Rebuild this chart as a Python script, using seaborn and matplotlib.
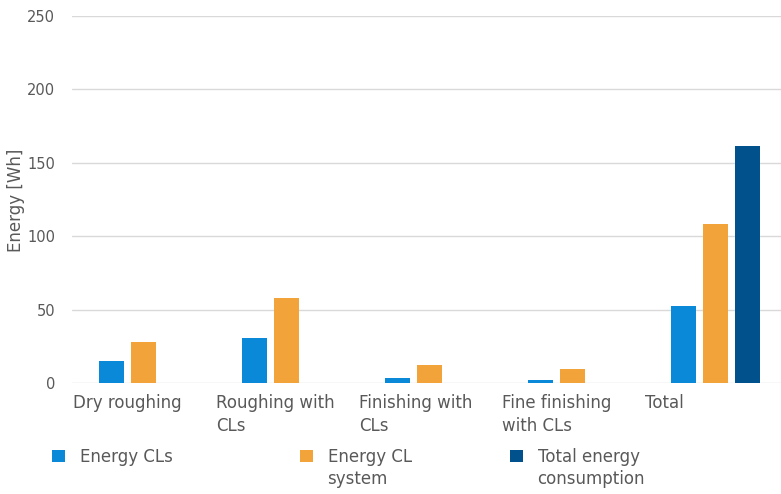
import numpy as np
import pandas as pd
import matplotlib
matplotlib.use("Agg")
import matplotlib.pyplot as plt
import seaborn as sns
from matplotlib.patches import Patch

categories = ["Dry roughing", "Roughing with\nCLs", "Finishing with\nCLs",
              "Fine finishing\nwith CLs", "Total"]
series = ["Energy CLs", "Energy CL system", "Total energy consumption"]
legend_lines = [["Energy CLs"], ["Energy CL", "system"], ["Total energy", "consumption"]]
energy_cls = [15, 30.5, 3.5, 2, 52.5]
energy_cl_system = [28, 58, 12, 9.5, 108.5]
total_energy = [0, 0, 0, 0, 161.5]
y_ticks = [0, 50, 100, 150, 200, 250]

colors = ["#0a89d8", "#f2a33a", "#00518c"]
text_color = "#595959"

df = pd.DataFrame({
    "category": categories * 3,
    "series": [series[0]] * 5 + [series[1]] * 5 + [series[2]] * 5,
    "energy": energy_cls + energy_cl_system + total_energy,
})

sns.set_theme(style="white")
plt.rcParams["font.family"] = ["DejaVu Sans"]

fig = plt.figure(figsize=(7.81, 4.94), dpi=100)
ax = fig.add_axes([72 / 781, 111 / 494, 709 / 781, 367 / 494])

sns.barplot(data=df, x="category", y="energy", hue="series", order=categories,
            hue_order=series, palette=colors, width=0.672, gap=0.2,
            linewidth=0, saturation=1, legend=False, ax=ax)

ax.set_ylim(0, 250)
ax.set_xlim(-0.5, 4.458)
ax.set_yticks(y_ticks)
ax.set_yticklabels([str(t) for t in y_ticks], fontsize=10.5, color=text_color)
ax.yaxis.grid(True, color="#d9d9d9", linewidth=1)
ax.set_axisbelow(True)
for s in ax.spines.values():
    s.set_visible(False)
ax.tick_params(axis="y", length=0, pad=12)
ax.tick_params(axis="x", length=0, pad=8)

ax.set_xticks(np.arange(len(categories)) - 0.49)
ax.set_xticklabels(categories, ha="left", va="top", fontsize=12,
                   color=text_color, linespacing=1.35)
ax.set_xlabel("")
ax.set_ylabel("")
fig.text(16 / 781, 1 - 200 / 494, "Energy [Wh]", rotation=90, ha="center",
         va="center", fontsize=12, color=text_color)

# one legend entry per block, spread along the bottom; wrapped lines follow below
anchors = [52, 300, 510]
legends = []
for lines, col, x0 in zip(legend_lines, colors, anchors):
    leg = fig.legend(handles=[Patch(facecolor=col, edgecolor="none")], labels=[lines[0]],
                     loc="upper left", bbox_to_anchor=(x0 / 781, 1 - 448 / 494),
                     frameon=False, handlelength=0.75, handleheight=0.75,
                     handletextpad=0.9, borderpad=0, borderaxespad=0,
                     prop={"size": 12}, labelcolor=text_color)
    legends.append(leg)

fig.canvas.draw()
inv = fig.transFigure.inverted()
for leg, lines in zip(legends, legend_lines):
    if len(lines) < 2:
        continue
    bb = leg.get_texts()[0].get_window_extent()
    (tx, ty), _ = inv.transform([[bb.x0, bb.y0], [bb.x1, bb.y1]])
    fig.text(tx, ty - 4 / 494, lines[1], ha="left", va="top", fontsize=12,
             color=text_color)

fig.savefig("out.png", dpi=100)
